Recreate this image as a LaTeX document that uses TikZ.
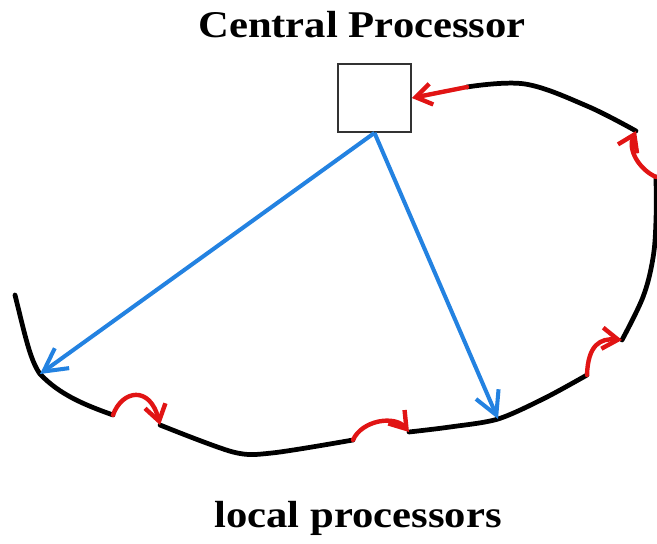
\documentclass[tikz,border=0pt]{standalone}
\usepackage{fontspec}
\setmainfont{Liberation Serif}
\usetikzlibrary{arrows.meta}
\definecolor{jumpred}{RGB}{225,20,20}
\definecolor{linkblue}{RGB}{35,130,225}
\begin{document}
\begin{tikzpicture}[x=0.02cm,y=-0.02cm,
  curve/.style={line width=2.7pt, line cap=round, line join=round},
  jump/.style={jumpred, line width=2.5pt, line cap=round, -{Straight Barb[length=9pt,width=12pt]}},
  link/.style={linkblue, line width=2.3pt, -{Straight Barb[length=13pt,width=14pt]}},
  title/.style={font=\fontsize{21.5}{25}\selectfont\bfseries, anchor=base, inner sep=0pt}]
\useasboundingbox (0,0) rectangle (657,544);
\node[title] (top) at (362,38) {\scalebox{1.13}[1]{Central Processor}};
\node[title] (bottom) at (358,527) {\scalebox{1.13}[1]{local processors}};
\node[draw=black!80, line width=1pt, minimum width=1.46cm, minimum height=1.36cm, inner sep=0pt] (cp) at (374.5,98) {};
% ends of the ring pieces
\coordinate (a0) at (15,295);
\coordinate (l1) at (40,374);
\coordinate (a1) at (113,415);
\coordinate (b0) at (160,425);
\coordinate (b1) at (353,440);
\coordinate (c0) at (409,432);
\coordinate (l2) at (498,419);
\coordinate (c1) at (587,375);
\coordinate (d0) at (622,340);
\coordinate (d1) at (656,177);
\coordinate (e0) at (636,131);
\coordinate (e1) at (467,87);
% ring
\draw[curve] (a0) .. controls (25,335) and (30,360) .. (l1) .. controls (60,395) and (85,405) .. (a1);
\draw[curve] plot[smooth, tension=0.5] coordinates {(b0) (233,452) (272,453) (b1)};
\draw[curve] plot[smooth, tension=0.5] coordinates {(c0) (450,427) (l2) (545,398) (c1)};
\draw[curve] plot[smooth, tension=0.6] coordinates {(d0) (643,297) (653,258) (656,220) (d1)};
\draw[curve] plot[smooth, tension=0.6] coordinates {(e0) (587,106) (525,84) (e1)};
% hops
\draw[jump] (a1) .. controls (122,390) and (150,385) .. (b0);
\draw[jump] (b1) .. controls (362,420) and (395,415) .. (c0);
\draw[jump] (c1) .. controls (588,345) and (600,338) .. (d0);
\draw[jump] (d1) .. controls (640,170) and (627,150) .. (e0);
\draw[jump] (e1) -- (cp.east);
% links
\draw[link] (cp.south) -- (l1);
\draw[link] (cp.south) -- (l2);
\end{tikzpicture}
\end{document}
